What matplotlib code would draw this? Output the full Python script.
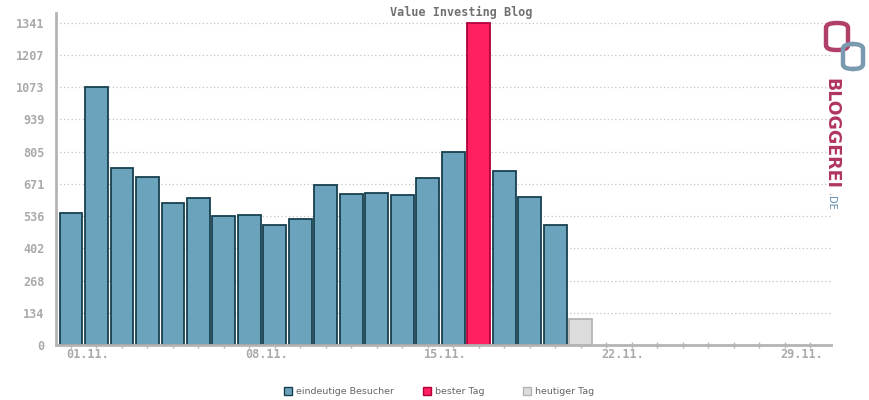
#Daily unique visitors of the Value Investing Blog in November, bloggerei.de style bar chart.
import matplotlib
matplotlib.use('Agg')
import matplotlib.pyplot as plt
from matplotlib.patches import FancyBboxPatch

#Data
days = list(range(1, 21))
visitors = [548, 1072, 735, 698, 590, 610, 537, 540, 498, 523,
            665, 627, 631, 623, 694, 802, 1341, 723, 615, 498]
best_day = 17
today = 21
today_visitors = 107
n_days = 30
label_days = [1, 8, 15, 22, 29]
y_max = 1341
y_step = 134.1
legend_labels = ['eindeutige Besucher', 'bester Tag', 'heutiger Tag']

#Colours
blue, blue_edge = '#6aa3bb', '#17404f'
red, red_edge = '#ff2060', '#b0003c'
grey, grey_edge = '#dcdcdc', '#b4b4b4'
axis_col = '#b4b4b4'
mono = 'DejaVu Sans Mono'

fig = plt.figure(figsize=(8.7, 4), dpi=100)
ax = fig.add_axes([0.064, 0.1375, 0.891, 0.831])

for d, v in zip(days, visitors):
  fc, ec = (red, red_edge) if d == best_day else (blue, blue_edge)
  ax.bar(d, v, width=0.9, color=fc, edgecolor=ec, linewidth=1.3, zorder=3)
ax.bar(today, today_visitors, width=0.9, color=grey, edgecolor=grey_edge, linewidth=1.3, zorder=3)

ax.set_xlim(0.4, n_days + 0.8)
ax.set_ylim(0, 1383)
yt = [i * y_step for i in range(11)]
ax.set_yticks(yt)
ax.set_yticklabels([f'{int(t + 0.5):d}' for t in yt], family=mono, fontweight='bold', fontsize=8.5, color='#aaaaaa')
ax.tick_params(axis='y', length=0, pad=8)
ax.set_xticks(range(1, n_days + 1))
ax.set_xticklabels([])
ax.tick_params(axis='x', direction='inout', length=5, width=1, color=axis_col)
for d in label_days:
  ax.text(d - 0.18, -12, f'{d:02d}.11.', ha='left', va='top', family=mono, fontweight='bold',
          fontsize=8.5, color='#aaaaaa')
ax.grid(axis='y', linestyle=(0, (1, 2)), color='#c4c4c4', linewidth=0.9, zorder=0)
for s in ['top', 'right']:
  ax.spines[s].set_visible(False)
for s in ['left', 'bottom']:
  ax.spines[s].set_color(axis_col)
  ax.spines[s].set_linewidth(2)
  ax.spines[s].set_zorder(4)

fig.text(0.53, 0.97, 'Value Investing Blog', ha='center', va='center', family=mono,
         fontweight='bold', fontsize=8.5, color='#707070')

#Legend
for x, fc, ec, lab in zip([284, 423, 523], [blue, red, grey], [blue_edge, red_edge, grey_edge], legend_labels):
  fig.patches.append(plt.Rectangle((x / 870, 1 - 395 / 400), 8 / 870, 8 / 400, transform=fig.transFigure,
                                   facecolor=fc, edgecolor=ec, linewidth=1))
  fig.text((x + 12) / 870, 1 - 391.5 / 400, lab, ha='left', va='center', fontsize=6.8, color='#666666')

#Logo
fig.patches.append(FancyBboxPatch((826 / 870, 1 - 50 / 400), 22 / 870, 27 / 400,
                                  boxstyle='round,pad=0,rounding_size=0.012', transform=fig.transFigure,
                                  facecolor='none', edgecolor='#b0406a', linewidth=3.2))
fig.patches.append(FancyBboxPatch((843 / 870, 1 - 69 / 400), 20 / 870, 25 / 400,
                                  boxstyle='round,pad=0,rounding_size=0.012', transform=fig.transFigure,
                                  facecolor='none', edgecolor='#7a9ab0', linewidth=3.2))
fig.text(831 / 870, 1 - 133 / 400, 'BLOGGEREI', rotation=270, ha='center', va='center',
         fontsize=12.5, fontweight='bold', color='#b03462')
fig.text(831 / 870, 1 - 201 / 400, '.DE', rotation=270, ha='center', va='center',
         fontsize=7, color='#5a8aaa')

fig.savefig('out.png', dpi=100)
